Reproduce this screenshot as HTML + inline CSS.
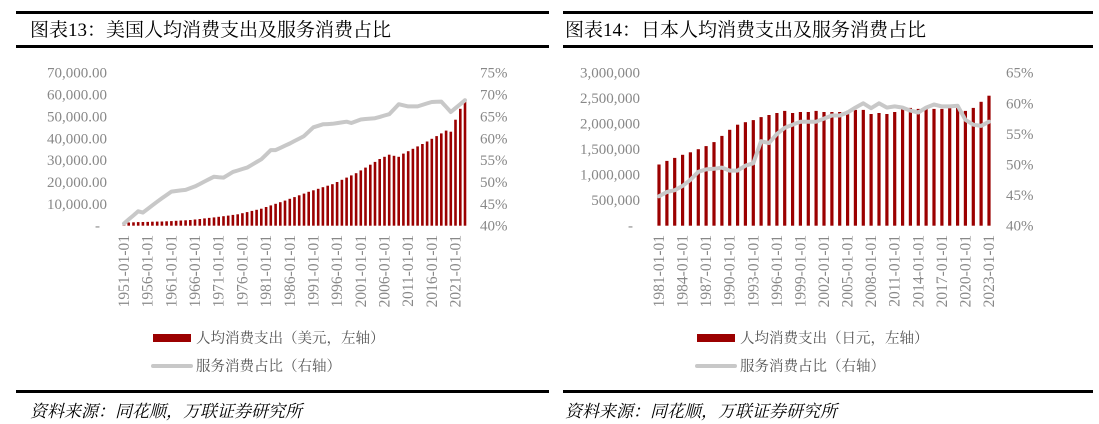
<!DOCTYPE html>
<html><head><meta charset="utf-8"><style>
body{margin:0;background:#fff;width:1099px;height:424px;overflow:hidden}
svg{display:block}
</style></head><body>
<svg id="s" width="1099" height="424" xmlns="http://www.w3.org/2000/svg" font-family="'Liberation Serif','Noto Serif CJK SC',serif">
<rect x="0" y="0" width="1099" height="424" fill="#fff"/>
<rect x="16" y="11" width="533" height="3" fill="#000"/>
<rect x="16" y="45" width="533" height="3" fill="#000"/>
<rect x="563" y="11" width="530" height="3" fill="#000"/>
<rect x="563" y="45" width="530" height="3" fill="#000"/>
<rect x="16" y="390" width="533" height="3" fill="#000"/>
<rect x="563" y="390" width="530" height="3" fill="#000"/>
<text x="30" y="36" font-size="19" fill="#000">图表13：美国人均消费支出及服务消费占比</text>
<text x="565" y="36" font-size="19" fill="#000">图表14：日本人均消费支出及服务消费占比</text>
<text x="30" y="417" font-size="17" font-style="italic" fill="#000">资料来源：同花顺，万联证券研究所</text>
<text x="565" y="417" font-size="17" font-style="italic" fill="#000">资料来源：同花顺，万联证券研究所</text>
<rect x="153" y="334" width="38" height="8" fill="#9b0000"/>
<text x="196" y="343" font-size="14.5" fill="#555">人均消费支出（美元，左轴）</text>
<line x1="153" y1="366" x2="191" y2="366" stroke="#c8c8c8" stroke-width="4" stroke-linecap="round"/>
<text x="196" y="371" font-size="14.5" fill="#555">服务消费占比（右轴）</text>
<rect x="697" y="334" width="38" height="8" fill="#9b0000"/>
<text x="740" y="343" font-size="14.5" fill="#555">人均消费支出（日元，左轴）</text>
<line x1="697" y1="366" x2="735" y2="366" stroke="#c8c8c8" stroke-width="4" stroke-linecap="round"/>
<text x="740" y="371" font-size="14.5" fill="#555">服务消费占比（右轴）</text>
<g id="g"></g>
</svg>
<script>
(function(){
var g=document.getElementById('g'),h='';
function interp(keys,n0,n1){var out=[];for(var y=n0;y<=n1;y++){for(var i=0;i<keys.length-1;i++){if(y>=keys[i][0]&&y<=keys[i+1][0]){var t=(y-keys[i][0])/(keys[i+1][0]-keys[i][0]);out.push(keys[i][1]+t*(keys[i+1][1]-keys[i][1]));break;}}}return out;}
var T=72.7,B=225.7;
var usB=interp([[1951,1400],[1955,1700],[1960,2000],[1965,2600],[1970,3800],[1975,5200],[1980,7800],[1985,11500],[1990,15500],[1995,19000],[2000,24000],[2005,30500],[2007,32500],[2009,31500],[2010,33000],[2015,38500],[2019,43500],[2020,43000],[2021,48500],[2022,53500],[2023,58000]],1951,2023);
var usL=interp([[0,40.5],[3,43.3],[4,43],[7,45.5],[10,47.8],[13,48.2],[15,49],[19,51.2],[21,51],[23,52.3],[26,53.3],[29,55.2],[31,57.3],[32,57.3],[35,58.8],[38,60.5],[40,62.5],[42,63.2],[44,63.3],[47,63.8],[48,63.5],[50,64.3],[53,64.6],[56,65.5],[58,67.8],[60,67.3],[62,67.3],[65,68.3],[67,68.4],[69,66],[72,68.7]],0,72);
var x0=124,st=(465-124)/72;
for(var i=0;i<73;i++){var x=x0+i*st,hh=usB[i]/70000*(B-T);h+='<rect x="'+(x-1.3).toFixed(1)+'" y="'+(B-hh).toFixed(1)+'" width="2.6" height="'+hh.toFixed(1)+'" fill="#9b0000"/>';}
var p='';for(var i=0;i<73;i++){var x=x0+i*st,y=B-(usL[i]-40)/35*(B-T);p+=(i?'L':'M')+x.toFixed(1)+','+y.toFixed(1);}
h+='<path d="'+p+'" fill="none" stroke="#c8c8c8" stroke-width="4" stroke-linejoin="round" stroke-linecap="round"/>';
var lv=['-','10,000.00','20,000.00','30,000.00','40,000.00','50,000.00','60,000.00','70,000.00'];
for(var k=0;k<8;k++){var y=B-k*(B-T)/7;h+='<text x="'+(k?107:100)+'" y="'+(y+5)+'" font-size="15" fill="#888" text-anchor="end">'+lv[k]+'</text>';h+='<text x="480" y="'+(y+5)+'" font-size="15" fill="#888">'+(40+5*k)+'%</text>';}
for(var yr=1951;yr<=2021;yr+=5){var x=x0+(yr-1951)*st;h+='<text transform="translate('+(x+5).toFixed(1)+',235) rotate(-90)" font-size="15.5" fill="#888" text-anchor="end">'+yr+'-01-01</text>';}
var jpB=[1.2,1.27,1.33,1.39,1.44,1.5,1.56,1.64,1.76,1.88,1.98,2.03,2.07,2.13,2.17,2.21,2.25,2.21,2.23,2.23,2.25,2.23,2.23,2.23,2.25,2.27,2.27,2.19,2.21,2.19,2.23,2.29,2.31,2.29,2.29,2.29,2.29,2.31,2.31,2.25,2.31,2.43,2.55];
var jpL=[44.8,45.5,45.8,46.5,47.5,48.8,49.2,49.3,49.5,49,49,49.8,50.2,53.8,53.5,55,56,56.5,57,57,57,57.5,58,58,58.5,59.3,60,59.2,60,59.3,59.5,59.3,58.8,58.5,59.3,59.8,59.5,59.5,59.6,57.3,56.5,56.3,57];
var x1=659,st2=(989-659)/42;
for(var i=0;i<43;i++){var x=x1+i*st2,hh=jpB[i]/3*(B-T);h+='<rect x="'+(x-1.6).toFixed(1)+'" y="'+(B-hh).toFixed(1)+'" width="3.2" height="'+hh.toFixed(1)+'" fill="#9b0000"/>';}
p='';for(var i=0;i<43;i++){var x=x1+i*st2,y=B-(jpL[i]-40)/25*(B-T);p+=(i?'L':'M')+x.toFixed(1)+','+y.toFixed(1);}
h+='<path d="'+p+'" fill="none" stroke="#c8c8c8" stroke-width="4" stroke-linejoin="round" stroke-linecap="round"/>';
var lv2=['-','500,000','1,000,000','1,500,000','2,000,000','2,500,000','3,000,000'];
for(var k=0;k<7;k++){var y=B-k*(B-T)/6;h+='<text x="'+(k?640:633)+'" y="'+(y+5)+'" font-size="15" fill="#888" text-anchor="end">'+lv2[k]+'</text>';}
for(var k=0;k<6;k++){var y=B-k*(B-T)/5;h+='<text x="1006" y="'+(y+5)+'" font-size="15" fill="#888">'+(40+5*k)+'%</text>';}
for(var yr=1981;yr<=2023;yr+=3){var x=x1+(yr-1981)*st2;h+='<text transform="translate('+(x+5).toFixed(1)+',235) rotate(-90)" font-size="15.5" fill="#888" text-anchor="end">'+yr+'-01-01</text>';}
g.innerHTML=h;
})();
</script>
</body></html>
